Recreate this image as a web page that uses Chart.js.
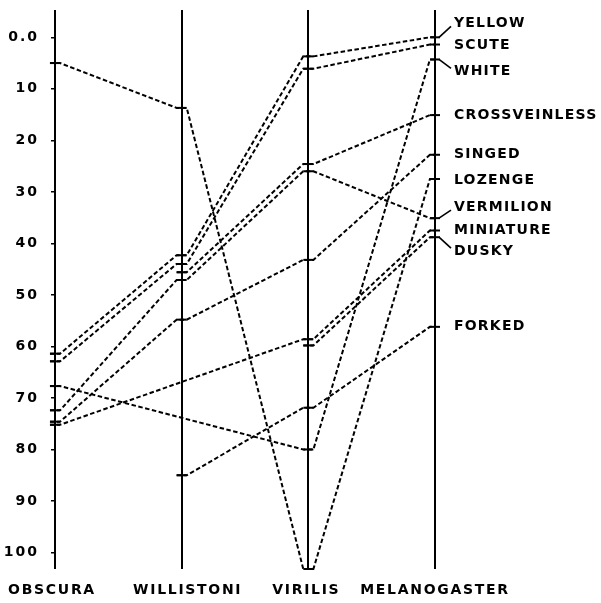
<!DOCTYPE html>
<html>
<head>
<meta charset="utf-8">
<script src="https://cdn.jsdelivr.net/npm/chart.js@4.4.1/dist/chart.umd.min.js"></script>
<style>
  html, body { margin: 0; padding: 0; background: #fff; }
  canvas { display: block; }
</style>
</head>
<body>
<canvas id="c" width="601" height="603"></canvas>
<script>
// Species along the horizontal axis
const species = ['OBSCURA', 'WILLISTONI', 'VIRILIS', 'MELANOGASTER'];

// Map positions per gene, one value per species (null = not located)
const yellow        = [61.4, 42.3,   3.7,  0.0];
const scute         = [62.9, 44.0,   6.1,  1.4];
const white         = [67.7, null,  80.0,  4.3];
const crossveinless = [null, 45.6,  24.6, 15.1];
const singed        = [74.6, 54.8,  43.2, 22.8];
const lozenge       = [ 5.0, 13.7, 103.2, 27.5];
const vermilion     = [72.4, 47.1,  26.0, 35.1];
const miniature     = [75.2, null,  58.6, 37.5];
const dusky         = [null, null,  59.8, 38.8];
const forked        = [null, 85.0,  71.9, 56.2];

const geneNames = ['YELLOW', 'SCUTE', 'WHITE', 'CROSSVEINLESS', 'SINGED',
                   'LOZENGE', 'VERMILION', 'MINIATURE', 'DUSKY', 'FORKED'];
const geneValues = [yellow, scute, white, crossveinless, singed,
                    lozenge, vermilion, miniature, dusky, forked];

// Scale ticks on the left
const yTicks = [0, 10, 20, 30, 40, 50, 60, 70, 80, 90, 100];
const yTickLabels = ['0.0', '10', '20', '30', '40', '50', '60', '70', '80', '90', '100'];

const FONT = '"DejaVu Sans", sans-serif';
const STUB = 0.04; // half-width of the flat run through each axis, in axis units

// Each located gene gets a short flat run across its axis so the dashed
// line meets the tick mark horizontally before bending away.
function buildPoints(vals) {
  const pts = [];
  vals.forEach((v, i) => {
    if (v === null) return;
    pts.push({ x: i - STUB, y: v, tick: false });
    pts.push({ x: i, y: v, tick: true });
    pts.push({ x: i + STUB, y: v, tick: false });
  });
  return pts;
}

const datasets = geneValues.map((vals, gi) => ({
  label: geneNames[gi],
  data: buildPoints(vals),
  showLine: true,
  borderColor: '#000',
  borderWidth: 2,
  borderDash: [4.5, 2.5],
  tension: 0,
  fill: false,
  clip: false,
  pointStyle: 'line',
  pointBorderColor: '#000',
  pointBorderWidth: 2,
  pointRadius: ctx => (ctx.raw && ctx.raw.tick ? 5 : 0),
  pointHoverRadius: 0
}));

// Vertical placement of gene names relative to their melanogaster position
const nameShift = { YELLOW: -14, SCUTE: 1, WHITE: 12, VERMILION: -11, DUSKY: 14, LOZENGE: 1 };
// Horizontal placement of species names relative to their axis
const speciesShift = [-3, 6, -2, 0];

// Wider letter spacing for the scale numbers
const spacingPlugin = {
  id: 'tickSpacing',
  beforeDraw(chart) { chart.ctx.letterSpacing = '2px'; },
  afterDraw(chart) { chart.ctx.letterSpacing = '0px'; }
};

const labelPlugin = {
  id: 'geneLabels',
  afterDatasetsDraw(chart) {
    const { ctx, scales: { x, y } } = chart;
    ctx.save();
    ctx.fillStyle = '#000';
    ctx.strokeStyle = '#000';
    ctx.lineWidth = 1.6;
    ctx.setLineDash([]);
    ctx.font = 'bold 14px ' + FONT;
    ctx.letterSpacing = '1.2px';
    ctx.textAlign = 'left';
    ctx.textBaseline = 'middle';
    const axisX = x.getPixelForValue(3);
    geneNames.forEach((name, gi) => {
      const v = geneValues[gi][3];
      const py = y.getPixelForValue(v);
      const shift = nameShift[name] || 0;
      const ly = py + shift;
      if (Math.abs(shift) > 5) {
        ctx.beginPath();
        ctx.moveTo(axisX + 4, py);
        ctx.lineTo(axisX + 16, ly - Math.sign(shift) * 3);
        ctx.stroke();
      }
      ctx.fillText(name, axisX + 19, ly);
    });
    // Species names along the bottom
    ctx.font = 'bold 14px ' + FONT;
    ctx.letterSpacing = '1.7px';
    ctx.textAlign = 'center';
    species.forEach((s, i) => {
      ctx.fillText(s, x.getPixelForValue(i) + speciesShift[i], 590);
    });
    ctx.restore();
  }
};

new Chart(document.getElementById('c'), {
  type: 'scatter',
  data: { datasets },
  options: {
    responsive: false,
    devicePixelRatio: 1,
    animation: false,
    events: [],
    layout: { padding: { top: 10, right: 166, bottom: 34, left: 0 } },
    plugins: {
      legend: { display: false },
      tooltip: { enabled: false }
    },
    scales: {
      x: {
        type: 'linear',
        min: 0,
        max: 3,
        afterBuildTicks: s => { s.ticks = species.map((_, i) => ({ value: i })); },
        afterFit: s => { s.height = 0; s.paddingLeft = 0; s.paddingRight = 0; },
        ticks: { display: false },
        grid: { color: '#000', lineWidth: 2, drawTicks: false },
        border: { display: false }
      },
      y: {
        type: 'linear',
        reverse: true,
        min: -5.3,
        max: 103.2,
        afterBuildTicks: s => { s.ticks = yTicks.map(v => ({ value: v })); },
        afterFit: s => { s.width = 55; s.paddingTop = 0; s.paddingBottom = 0; },
        ticks: {
          color: '#000',
          font: { family: FONT, size: 14, weight: 'bold' },
          padding: 12,
          callback: v => yTickLabels[yTicks.indexOf(v)]
        },
        grid: { drawOnChartArea: false, drawTicks: true, tickLength: 4, color: '#000', lineWidth: 1.5 },
        border: { display: false }
      }
    }
  },
  plugins: [spacingPlugin, labelPlugin]
});
</script>
</body>
</html>
